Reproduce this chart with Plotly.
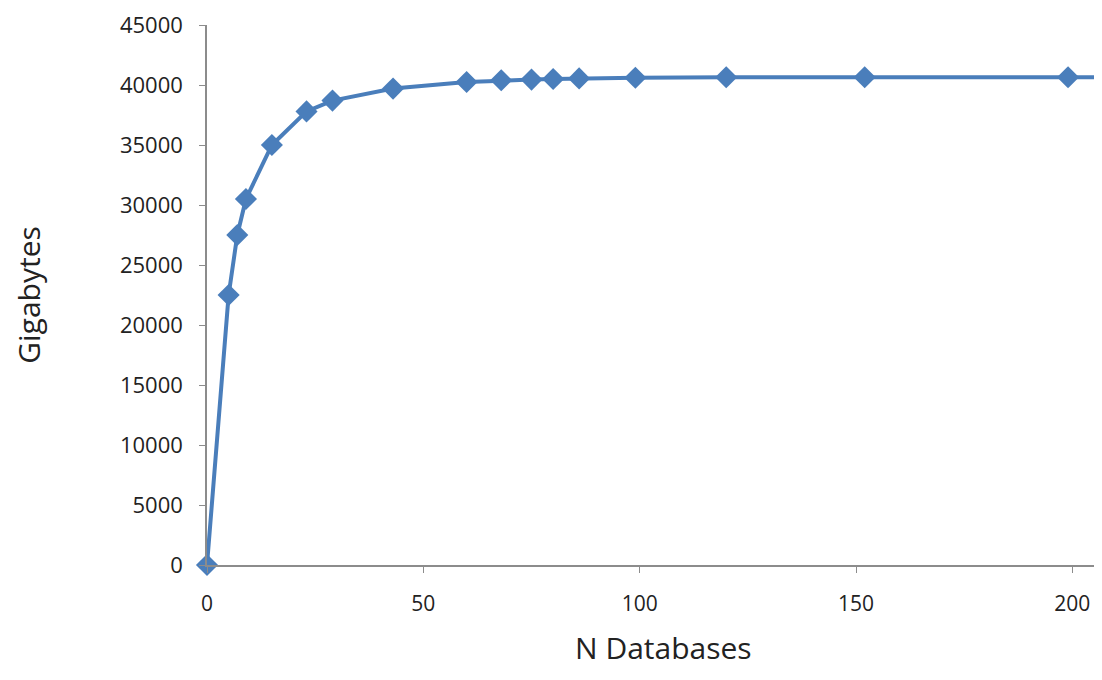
import plotly.graph_objects as go

n_databases = [0, 5, 7, 9, 15, 23, 29, 43, 60, 68, 75, 80, 86, 99, 120, 152, 199, 240]
gigabytes = [0, 22500, 27500, 30500, 35000, 37800, 38700, 39700, 40250, 40400, 40450, 40500,
             40550, 40600, 40650, 40650, 40650, 40650]

x_ticks = [0, 50, 100, 150, 200]
y_ticks = [0, 5000, 10000, 15000, 20000, 25000, 30000, 35000, 40000, 45000]
x_title = "N Databases"
y_title = "Gigabytes"

FONT = "Open Sans"
fig = go.Figure()
fig.add_trace(go.Scatter(
    x=n_databases, y=gigabytes, mode="lines+markers",
    line=dict(color="#4a7ebb", width=4),
    marker=dict(symbol="diamond", size=17, color="#4a7ebb"),
    cliponaxis=False, showlegend=False,
))

fig.update_layout(
    width=1086, height=664,
    margin=dict(l=199, r=0, t=17, b=107, autoexpand=False),
    plot_bgcolor="white", paper_bgcolor="white",
    font=dict(family=FONT, color="#222222"),
)
fig.update_xaxes(
    range=[0, 205.0], tickvals=x_ticks, showgrid=False, zeroline=False, automargin=False,
    showline=True, linecolor="#8c8c8c", linewidth=1.5,
    ticks="outside", ticklen=6, tickcolor="#8c8c8c", ticklabeloverflow="allow",
    tickfont=dict(size=21, family=FONT, color="#222222"), ticklabelstandoff=13,
)
fig.add_annotation(
    text=x_title, xref="paper", yref="paper", x=0.515, y=0, xanchor="center",
    yanchor="middle", yshift=-82, showarrow=False,
    font=dict(size=30, family=FONT, color="#222222"),
)
fig.update_yaxes(
    range=[0, 45000], tickvals=y_ticks, tickformat="d", showgrid=False, zeroline=False,
    automargin=False,
    showline=True, linecolor="#8c8c8c", linewidth=1.5,
    ticks="outside", ticklen=6, tickcolor="#8c8c8c",
    tickfont=dict(size=22, family=FONT, color="#222222"), ticklabelstandoff=12,
    title=dict(text=y_title, font=dict(size=30, family=FONT, color="#222222"), standoff=72),
)
fig.write_html("out.html")
